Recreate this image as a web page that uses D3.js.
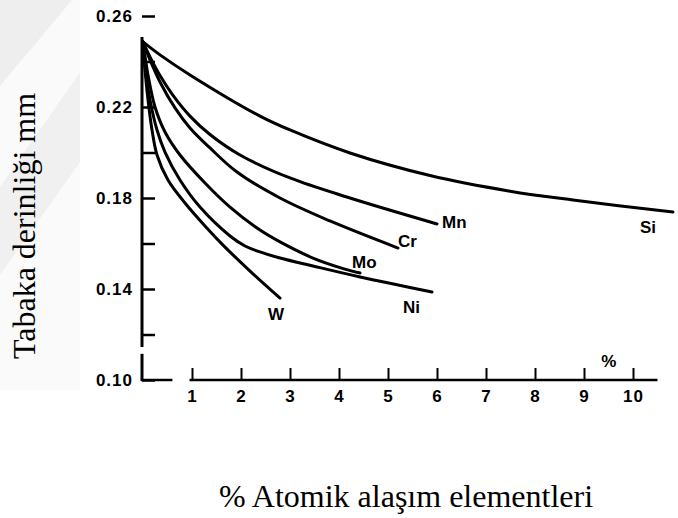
<!DOCTYPE html>
<html>
<head>
<meta charset="utf-8">
<script src="https://cdn.jsdelivr.net/npm/d3@7"></script>
<style>
  html, body { margin: 0; padding: 0; background: #fff; }
  svg { display: block; }
  .tick text { font-family: "Liberation Sans", Arial, sans-serif; font-weight: bold; font-size: 17px; fill: #000; letter-spacing: 1px; }
  .curve-label { font-family: "Liberation Sans", Arial, sans-serif; font-weight: bold; font-size: 17px; fill: #000; }
  .title { font-family: "Liberation Serif", "Times New Roman", serif; font-size: 32px; fill: #000; }
</style>
</head>
<body>
<svg id="chart" width="678" height="518"></svg>
<script>
// Case depth (mm) versus atomic % of alloying element
const elements = ["W", "Ni", "Mo", "Cr", "Mn", "Si"];

const seriesW  = [[0, 0.2486], [0.041, 0.2363], [0.102, 0.2231], [0.184, 0.2099], [0.286, 0.1989], [0.510, 0.1879],
                  [0.857, 0.1778], [1.265, 0.1677], [1.633, 0.1593], [2.184, 0.1479], [2.796, 0.1360]];
const seriesNi = [[0, 0.2486], [0.061, 0.2341], [0.143, 0.2231], [0.286, 0.2099], [0.449, 0.2002], [0.755, 0.1879],
                  [1.163, 0.1760], [1.776, 0.1633], [2.082, 0.1589], [2.388, 0.1563], [2.796, 0.1536], [3.469, 0.1501],
                  [4.429, 0.1453], [5.898, 0.1387]];
const seriesMo = [[0, 0.2486], [0.102, 0.2341], [0.245, 0.2200], [0.449, 0.2090], [0.755, 0.1989], [1.265, 0.1866],
                  [1.776, 0.1760], [2.388, 0.1659], [2.796, 0.1607], [3.469, 0.1536], [4.020, 0.1494], [4.429, 0.1470]];
const seriesCr = [[0, 0.2486], [0.143, 0.2407], [0.347, 0.2310], [0.653, 0.2196], [0.959, 0.2108], [1.367, 0.2020],
                  [1.918, 0.1914], [2.796, 0.1800], [3.816, 0.1699], [5.204, 0.1580]];
const seriesMn = [[0, 0.2486], [0.143, 0.2420], [0.347, 0.2338], [0.612, 0.2251], [0.959, 0.2160], [1.367, 0.2079],
                  [1.980, 0.1989], [3.000, 0.1888], [4.224, 0.1800], [6.000, 0.1686]];
const seriesSi = [[0, 0.2486], [0.347, 0.2429], [0.959, 0.2341], [2.388, 0.2160], [3.000, 0.2099], [4.224, 0.1998],
                  [5.857, 0.1899], [7.490, 0.1830], [8.776, 0.1791], [10.816, 0.1738]];

const xTicks = [1, 2, 3, 4, 5, 6, 7, 8, 9, 10];
const yTicks = [0.10, 0.12, 0.14, 0.16, 0.18, 0.20, 0.22, 0.24, 0.26];
const yTickLabels = ["0.10", "0.14", "0.18", "0.22", "0.26"];

// label offsets (px) from the last point of each curve
const labelOffsets = {
  W:  [-12, 22],
  Ni: [-29, 21],
  Mo: [-8, -5],
  Cr: [0, -1],
  Mn: [5, 4],
  Si: [-33, 21]
};

const seriesByName = { W: seriesW, Ni: seriesNi, Mo: seriesMo, Cr: seriesCr, Mn: seriesMn, Si: seriesSi };

const svg = d3.select("#chart");

// faint background watermark bands
const bg = svg.append("g");
bg.append("rect").attr("x", 0).attr("y", 0).attr("width", 80).attr("height", 390).attr("fill", "#fafafa");
bg.append("polygon").attr("points", "0,0 72,0 0,86").attr("fill", "#eeeeee");
bg.append("polygon").attr("points", "90,58 0,187 0,275 80,162 80,72").attr("fill", "#f0f0f0");

const x = d3.scaleLinear().domain([0, 10]).range([143, 633]);
const y = d3.scaleLinear().domain([0.10, 0.26]).range([380, 16]);

// y axis: ticks pointing inward, labels on the left
const yAxis = d3.axisLeft(y)
  .tickValues(yTicks)
  .tickSizeInner(-13)
  .tickSizeOuter(0)
  .tickPadding(9)
  .tickFormat(d => {
    const s = d3.format(".2f")(d);
    return yTickLabels.includes(s) ? s : "";
  });

const gy = svg.append("g").attr("transform", `translate(${x(0) - 1},0)`).call(yAxis);
gy.select(".domain").remove();
gy.selectAll(".tick line").attr("stroke", "#000").attr("stroke-width", 2.5);

// y axis line, broken just above the origin
const yAxisSegments = [[0.2508, 0.1150], [0.1115, 0.10]];
svg.append("g").selectAll("line").data(yAxisSegments).join("line")
  .attr("x1", x(0) - 1).attr("x2", x(0) - 1)
  .attr("y1", d => y(d[0])).attr("y2", d => y(d[1]) + 1)
  .attr("stroke", "#000").attr("stroke-width", 3);

// x axis: ticks pointing up, labels below
const xAxis = d3.axisBottom(x)
  .tickValues(xTicks)
  .tickSizeInner(-12)
  .tickSizeOuter(0)
  .tickPadding(10)
  .tickFormat(d3.format("d"));

const gx = svg.append("g").attr("transform", `translate(0,${y(0.10)})`).call(xAxis);
gx.select(".domain").remove();
gx.selectAll(".tick line").attr("stroke", "#000").attr("stroke-width", 2);

const xAxisSegments = [[-0.04, 0.60], [0.95, 10.5]];
svg.append("g").selectAll("line").data(xAxisSegments).join("line")
  .attr("x1", d => x(d[0])).attr("x2", d => x(d[1]))
  .attr("y1", y(0.10)).attr("y2", y(0.10))
  .attr("stroke", "#000").attr("stroke-width", 2.5);

svg.append("text").attr("class", "curve-label")
  .attr("x", x(9.35)).attr("y", y(0.10) - 13)
  .attr("font-size", "13px")
  .text("%");

// curves
const line = d3.line()
  .x(d => x(d[0]))
  .y(d => y(d[1]))
  .curve(d3.curveCatmullRom.alpha(0.5));

svg.append("g").selectAll("path").data(elements).join("path")
  .attr("d", name => line(seriesByName[name]))
  .attr("fill", "none")
  .attr("stroke", "#000")
  .attr("stroke-width", 3)
  .attr("stroke-linecap", "round");

// curve labels at each curve's end
svg.append("g").selectAll("text").data(elements).join("text")
  .attr("class", "curve-label")
  .attr("x", name => { const p = seriesByName[name].at(-1); return x(p[0]) + labelOffsets[name][0]; })
  .attr("y", name => { const p = seriesByName[name].at(-1); return y(p[1]) + labelOffsets[name][1]; })
  .text(name => name);

// axis titles
svg.append("text").attr("class", "title")
  .attr("text-anchor", "middle")
  .attr("x", 406).attr("y", 507)
  .text("% Atomik alaşım elementleri");

svg.append("text").attr("class", "title")
  .attr("text-anchor", "middle")
  .attr("transform", "translate(35,226) rotate(-90)")
  .text("Tabaka derinliği mm");
</script>
</body>
</html>
